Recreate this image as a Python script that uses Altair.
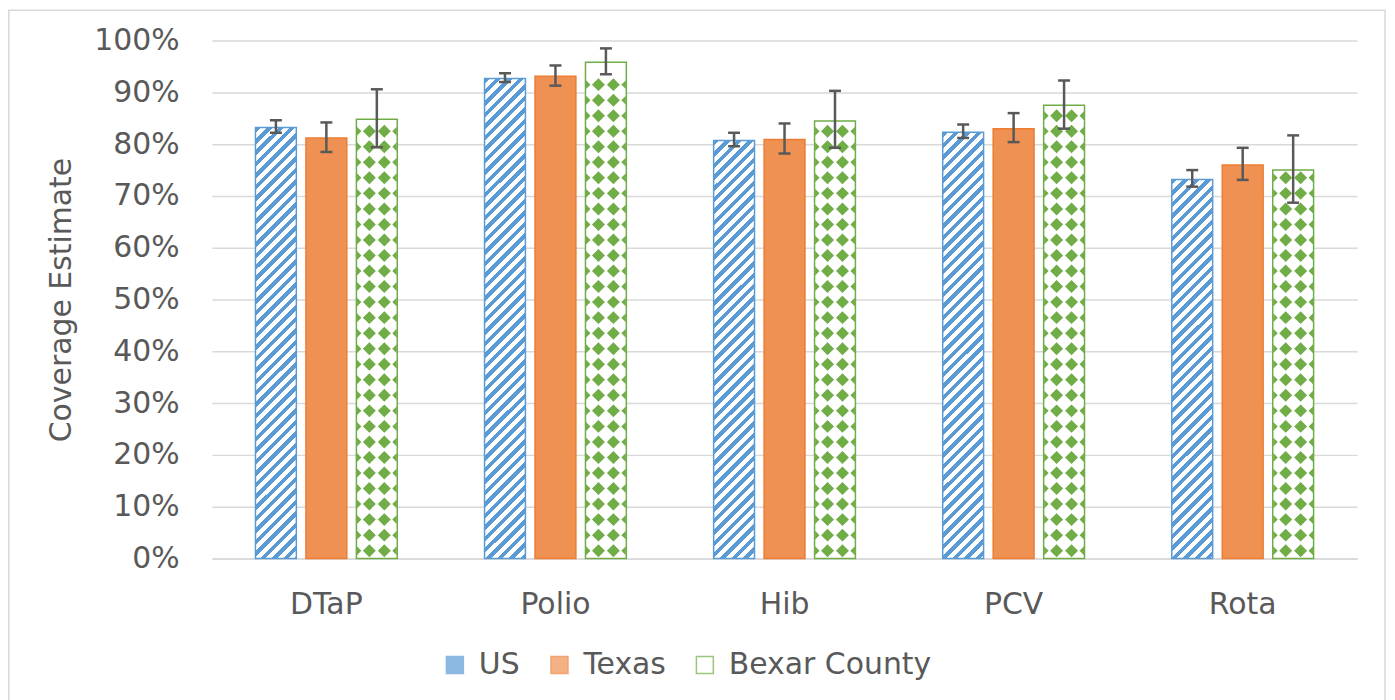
import altair as alt
import pandas as pd

vaccines = ["DTaP", "Polio", "Hib", "PCV", "Rota"]
series_names = ["US", "Texas", "Bexar County"]

us_est = [0.832, 0.927, 0.807, 0.823, 0.732]
us_lo = [0.822, 0.920, 0.796, 0.812, 0.718]
us_hi = [0.846, 0.937, 0.822, 0.838, 0.750]
tx_est = [0.812, 0.931, 0.809, 0.830, 0.760]
tx_lo = [0.785, 0.913, 0.782, 0.804, 0.731]
tx_hi = [0.842, 0.952, 0.840, 0.860, 0.793]
bx_est = [0.848, 0.958, 0.845, 0.875, 0.750]
bx_lo = [0.794, 0.935, 0.793, 0.830, 0.687]
bx_hi = [0.906, 0.985, 0.903, 0.923, 0.817]

BLUE = "#5B9BD5"
ORANGE = "#ED7D31"
ORANGE_MIX = "#EF9152"
GREEN = "#70AD47"
GREY_TXT = "#595959"
GRID = "#D9D9D9"
FONT = "DejaVu Sans"

rows = []
for name, est, lo, hi in [("US", us_est, us_lo, us_hi),
                          ("Texas", tx_est, tx_lo, tx_hi),
                          ("Bexar County", bx_est, bx_lo, bx_hi)]:
    for v, e, l, h in zip(vaccines, est, lo, hi):
        rows.append({"vaccine": v, "series": name, "est": e, "lo": l, "hi": h})
df = pd.DataFrame(rows)

W, H = 1150, 520
BAR_W = 41

x_enc = alt.X("vaccine:N", sort=vaccines, title=None,
              scale=alt.Scale(paddingInner=0.381, paddingOuter=0.19),
              axis=alt.Axis(labelFontSize=30, labelColor=GREY_TXT, labelFont=FONT,
                            labelAngle=0, ticks=False, domain=True, domainColor=GRID,
                            domainWidth=1.5, labelPadding=31, grid=False))
xo_enc = alt.XOffset("series:N", sort=series_names,
                     scale=alt.Scale(domain=series_names, paddingInner=0.19, paddingOuter=0))
y_scale = alt.Scale(domain=[0, 1], nice=False)
y_enc = alt.Y("est:Q", scale=y_scale, title="Coverage Estimate",
              axis=alt.Axis(values=[i / 10 for i in range(11)], format=".0%",
                            labelFontSize=30, labelColor=GREY_TXT, labelFont=FONT,
                            labelPadding=33, ticks=False, tickSize=0, domain=False,
                            gridColor=GRID, gridWidth=1.5,
                            titleFontSize=30, titleFont=FONT, titleColor=GREY_TXT,
                            titleFontWeight="normal", titleX=-151, titleY=260,
                            titleBaseline="middle"))

base = alt.Chart(df)


def stripe_gradient(h, w=BAR_W, period=11.5, frac=0.48, color=BLUE, bg="#FFFFFF"):
    r = w / h
    s = (r + 1) / (r * r + 1)
    n = (w + h) / period
    stops = []
    k = 0
    while k / n < 1:
        t0 = round(k / n, 5)
        t1 = round(min((k + frac) / n, 1), 5)
        t2 = round(min((k + 1) / n, 1), 5)
        stops += [{"offset": t0, "color": color}, {"offset": t1, "color": color},
                  {"offset": t1, "color": bg}, {"offset": t2, "color": bg}]
        k += 1
    return {"gradient": "linear", "x1": 0, "y1": 0, "x2": round(s * r, 5),
            "y2": round(s, 5), "stops": stops}


# one row of the diamond pattern, drawn in pixel units (size=4 -> scale 1)
DIAMOND_ROW = ("M-14,0L-7.5,-6.5L-1,0L-7.5,6.5Z"
               "M1,0L7.5,-6.5L14,0L7.5,6.5Z"
               "M-20,-4.5L-15.5,0L-20,4.5Z"
               "M20,-4.5L15.5,0L20,4.5Z")

layers = []

# US bars with diagonal stripes
for v, e in zip(vaccines, us_est):
    layers.append(
        base.transform_filter((alt.datum.series == "US") & (alt.datum.vaccine == v))
        .mark_bar(fill=stripe_gradient(e * H), stroke=BLUE, strokeWidth=1.5)
        .encode(x=x_enc, xOffset=xo_enc, y=y_enc)
    )

# Texas bars
layers.append(
    base.transform_filter(alt.datum.series == "Texas")
    .mark_bar(fill=ORANGE_MIX, stroke=ORANGE, strokeWidth=1.5)
    .encode(x=x_enc, xOffset=xo_enc, y=y_enc)
)

# Bexar County bars
layers.append(
    base.transform_filter(alt.datum.series == "Bexar County")
    .mark_bar(fill="#FFFFFF", stroke=GREEN, strokeWidth=1.5)
    .encode(x=x_enc, xOffset=xo_enc, y=y_enc)
)

# diamond pattern in the Bexar County bars
layers.append(
    base.transform_filter(alt.datum.series == "Bexar County")
    .transform_calculate(steps="sequence(0.015, datum.est - 0.013, 0.03)")
    .transform_flatten(["steps"])
    .mark_point(shape=DIAMOND_ROW, filled=True, fill=GREEN, size=4, opacity=1,
                strokeWidth=0)
    .encode(x=x_enc, xOffset=xo_enc, y=alt.Y("steps:Q", scale=y_scale))
)

# error bars
layers.append(
    base.mark_rule(color=GREY_TXT, strokeWidth=2.5)
    .encode(x=x_enc, xOffset=xo_enc, y=alt.Y("lo:Q", scale=y_scale), y2="hi:Q")
)
for col in ("lo", "hi"):
    layers.append(
        base.mark_tick(color=GREY_TXT, size=12, thickness=2.5, opacity=1)
        .encode(x=x_enc, xOffset=xo_enc, y=alt.Y(f"{col}:Q", scale=y_scale))
    )

# legend carrier (draws nothing, supplies the legend)
leg = alt.Legend(title=None, orient="none", legendX=229, legendY=612,
                 direction="horizontal", symbolType="square", symbolSize=289,
                 symbolStrokeWidth=1.5, labelFontSize=30, labelFont=FONT,
                 labelColor=GREY_TXT, labelOffset=9, columnPadding=24, labelLimit=400)
layers.append(
    base.transform_filter("false")
    .mark_square(filled=True)
    .encode(
        fill=alt.Fill("series:N", sort=series_names,
                      scale=alt.Scale(domain=series_names, range=[BLUE, ORANGE_MIX, "#FFFFFF"]),
                      legend=leg),
        stroke=alt.Stroke("series:N", sort=series_names,
                          scale=alt.Scale(domain=series_names, range=[BLUE, ORANGE, GREEN]),
                          legend=leg),
    )
)

# outer frame
layers.append(
    alt.Chart(pd.DataFrame({"a": [0]}))
    .mark_rect(filled=False, stroke=GRID, strokeWidth=1.5)
    .encode(x=alt.value(-204), x2=alt.value(1178), y=alt.value(-30.5), y2=alt.value(664))
)

chart = (
    alt.layer(*layers)
    .properties(width=W, height=H,
                autosize=alt.AutoSizeParams(type="none"),
                padding={"left": 204.8, "top": 31.3, "right": 30, "bottom": 141})
    .configure_view(stroke=None)
)

chart.save("out.html", embed_options={"renderer": "svg", "actions": False})
